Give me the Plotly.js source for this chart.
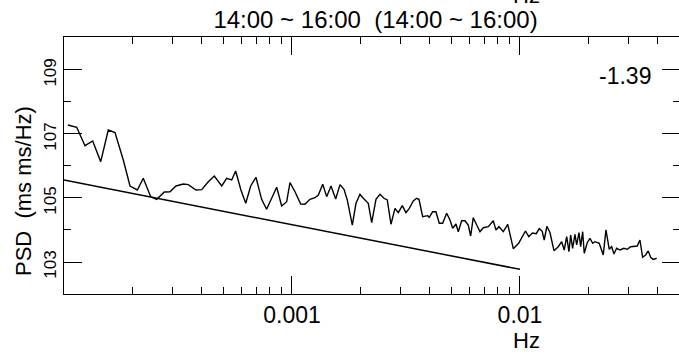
<!DOCTYPE html>
<html><head><meta charset="utf-8">
<script src="https://cdn.plot.ly/plotly-3.0.1.min.js"></script>
<style>html,body{margin:0;padding:0;overflow:hidden;background:#fff}</style>
</head><body><div id="chart" style="width:680px;height:354px"></div>
<script>
// PSD spectrum (Hz, ms^2/Hz)
const freqHz = [
1.04e-4, 1.137e-4, 1.236e-4, 1.336e-4, 1.449e-4, 1.564e-4, 1.674e-4, 1.820e-4, 1.948e-4, 2.097e-4,
2.227e-4, 2.401e-4, 2.551e-4, 2.754e-4, 2.917e-4, 3.098e-4, 3.336e-4, 3.509e-4, 3.793e-4, 4.018e-4,
4.295e-4, 4.563e-4, 4.918e-4, 5.17e-4, 5.44e-4, 5.66e-4, 5.97e-4, 6.27e-4, 6.59e-4, 6.95e-4,
7.36e-4, 7.74e-4, 8.57e-4, 9.01e-4, 9.48e-4, 9.80e-4, 1.031e-3, 1.092e-3, 1.140e-3, 1.199e-3,
1.261e-3, 1.305e-3, 1.364e-3, 1.420e-3, 1.483e-3, 1.555e-3, 1.624e-3, 1.691e-3, 1.748e-3, 1.784e-3,
1.839e-3, 1.909e-3, 1.987e-3, 2.055e-3, 2.161e-3, 2.237e-3, 2.336e-3, 2.432e-3, 2.532e-3, 2.618e-3,
2.718e-3, 2.830e-3, 2.926e-3, 3.047e-3, 3.162e-3, 3.270e-3, 3.404e-3, 3.523e-3, 3.606e-3, 3.743e-3,
3.937e-3, 4.001e-3, 4.141e-3, 4.281e-3, 4.427e-3, 4.581e-3, 4.770e-3, 4.932e-3, 5.068e-3, 5.240e-3,
5.363e-3, 5.550e-3, 5.738e-3, 5.932e-3, 6.078e-3, 6.240e-3, 6.457e-3, 6.677e-3, 6.902e-3, 7.261e-3,
7.637e-3, 7.848e-3, 8.090e-3, 8.450e-3, 8.84e-3, 9.35e-3, 9.87e-3, 1.020e-2, 1.057e-2, 1.093e-2,
1.134e-2, 1.179e-2, 1.215e-2, 1.252e-2, 1.277e-2, 1.313e-2, 1.354e-2, 1.410e-2, 1.472e-2, 1.524e-2,
1.564e-2, 1.603e-2, 1.640e-2, 1.669e-2, 1.702e-2, 1.743e-2, 1.773e-2, 1.815e-2, 1.846e-2, 1.884e-2,
1.914e-2, 1.973e-2, 2.028e-2, 2.084e-2, 2.133e-2, 2.227e-2, 2.319e-2, 2.383e-2, 2.464e-2, 2.525e-2,
2.584e-2, 2.655e-2, 2.745e-2, 2.858e-2, 2.955e-2, 3.058e-2, 3.171e-2, 3.269e-2, 3.359e-2, 3.452e-2,
3.558e-2, 3.653e-2, 3.743e-2, 3.842e-2, 3.977e-2];

const psd = [
1.91e7, 1.62e7, 4.31e6, 6.04e6, 1.36e6, 1.33e7, 1.10e7, 1.54e6, 2.37e5, 1.78e5,
4.13e5, 1.10e5, 9.10e4, 1.54e5, 1.57e5, 2.37e5, 2.74e5, 2.61e5, 1.78e5, 1.82e5,
3.23e5, 4.87e5, 2.37e5, 4.13e5, 3.65e5, 6.98e5, 1.78e5, 6.82e4, 2.37e5, 4.44e5,
9.10e4, 4.44e4, 2.16e5, 5.62e4, 7.66e4, 3.01e5, 1.57e5, 6.49e4, 6.35e4, 9.10e4,
1.02e5, 1.24e5, 2.68e5, 1.10e5, 2.37e5, 9.31e4, 2.61e5, 1.87e5, 8.66e4, 4.22e4,
1.43e4, 6.82e4, 1.31e5, 9.79e4, 6.82e4, 1.69e4, 9.10e4, 1.31e5, 9.79e4, 8.66e4,
1.51e4, 4.76e4, 3.47e4, 5.74e4, 3.47e4, 4.76e4, 8.05e4, 9.79e4, 9.10e4, 2.61e4,
2.80e4, 2.49e4, 3.73e4, 3.73e4, 1.62e4, 1.62e4, 3.33e4, 2.05e4, 1.13e4, 1.54e4,
8.85e3, 1.95e4, 1.95e4, 1.43e4, 6.49e3, 2.42e4, 1.43e4, 8.85e3, 1.18e4, 1.27e4,
1.95e4, 1.00e4, 1.27e4, 8.85e3, 1.49e4, 2.61e3, 3.84e3, 6.18e3, 9.31e3, 6.18e3,
8.05e3, 7.66e3, 1.10e4, 9.10e3, 4.87e3, 1.31e4, 8.35e3, 2.25e3, 3.01e3, 4.31e3,
2.37e3, 6.18e3, 2.10e3, 6.98e3, 2.68e3, 7.34e3, 3.40e3, 8.24e3, 3.01e3, 8.85e3,
1.87e3, 4.01e3, 5.51e3, 3.84e3, 4.31e3, 3.84e3, 1.66e3, 1.00e4, 2.49e3, 3.01e3,
1.78e3, 2.68e3, 2.37e3, 2.68e3, 2.49e3, 3.01e3, 3.16e3, 3.16e3, 4.87e3, 1.40e3,
1.66e3, 2.21e3, 1.40e3, 1.21e3, 1.31e3];

// fitted slope line
const refFreq = [1e-4, 1e-2];
const refPsd = [3.63e5, 5.9e2];
const slopeLabel = '-1.39';

// axis ticks
const xTickVals = [0.001, 0.01];
const xTickText = ['0.001', '0.01'];
const xMinorVals = [2e-4,3e-4,4e-4,5e-4,6e-4,7e-4,8e-4,9e-4,2e-3,3e-3,4e-3,5e-3,6e-3,7e-3,8e-3,9e-3,2e-2,3e-2,4e-2];
const yTickVals = [1e3, 1e5, 1e7, 1e9];
const yTickText = ['103', '105', '107', '109'];
const yMinorVals = [1e4, 1e6, 1e8];

const titleText = '14:00 ~ 16:00\u00a0\u00a0(14:00 ~ 16:00)';
const yTitleText = 'PSD\u00a0\u00a0(ms ms/Hz)';
const unitText = 'Hz';

const FONT = '"Liberation Sans", Arial, Helvetica, sans-serif';

const traces = [
  {x: freqHz, y: psd, type: 'scatter', mode: 'lines', line: {color: '#000', width: 1.4}, hoverinfo: 'skip'},
  {x: refFreq, y: refPsd, type: 'scatter', mode: 'lines', line: {color: '#000', width: 1.5}, hoverinfo: 'skip'}
];

const axisCommon = {
  type: 'log', tickmode: 'array', ticks: 'inside', ticklen: 18, tickwidth: 1, tickcolor: '#000',
  showline: true, linecolor: '#000', linewidth: 1, mirror: 'allticks',
  showgrid: false, zeroline: false
};

const layout = {
  width: 680, height: 354,
  margin: {l: 64, r: 0, t: 37, b: 60, pad: 0},
  showlegend: false,
  paper_bgcolor: '#fff', plot_bgcolor: '#fff',
  font: {family: FONT, color: '#000'},
  title: {text: titleText, font: {size: 24, family: FONT, color: '#000'},
          xref: 'paper', x: 0.5057, xanchor: 'center',
          yref: 'container', y: 1 - 20 / 354, yanchor: 'middle'},
  xaxis: Object.assign({}, axisCommon, {
    range: [-4, -1.298], tickvals: xTickVals, ticktext: xTickText,
    tickfont: {size: 23, family: FONT, color: '#000'},
    minor: {tickmode: 'array', tickvals: xMinorVals, ticks: 'inside', ticklen: 7, tickwidth: 1, tickcolor: '#000', showgrid: false}
  }),
  yaxis: Object.assign({}, axisCommon, {
    range: [2, 10.03], tickvals: yTickVals, ticktext: yTickText,
    tickangle: -90, tickfont: {size: 17, family: FONT, color: '#000'}, ticklabelshift: 5,
    minor: {tickmode: 'array', tickvals: yMinorVals, ticks: 'inside', ticklen: 7, tickwidth: 1, tickcolor: '#000', showgrid: false}
  }),
  annotations: [
    {text: slopeLabel, xref: 'paper', yref: 'paper', x: 0.9562, y: 0.850, xanchor: 'right', yanchor: 'middle',
     showarrow: false, font: {size: 23, family: FONT, color: '#000'}},
    {text: unitText, xref: 'paper', yref: 'paper', x: 0.7516, y: -0.179, xanchor: 'center', yanchor: 'middle',
     showarrow: false, font: {size: 22, family: FONT, color: '#000'}},
    {text: unitText, xref: 'paper', yref: 'paper', x: 0.7516, y: 1.1615, xanchor: 'center', yanchor: 'middle',
     showarrow: false, font: {size: 22, family: FONT, color: '#000'}},
    {text: yTitleText, xref: 'paper', yref: 'paper', x: -0.0649, y: 0.4008, xanchor: 'center', yanchor: 'middle',
     textangle: -90, showarrow: false, font: {size: 22, family: FONT, color: '#000'}}
  ]
};

Plotly.newPlot('chart', traces, layout, {staticPlot: true, displayModeBar: false});
</script>
</body></html>
